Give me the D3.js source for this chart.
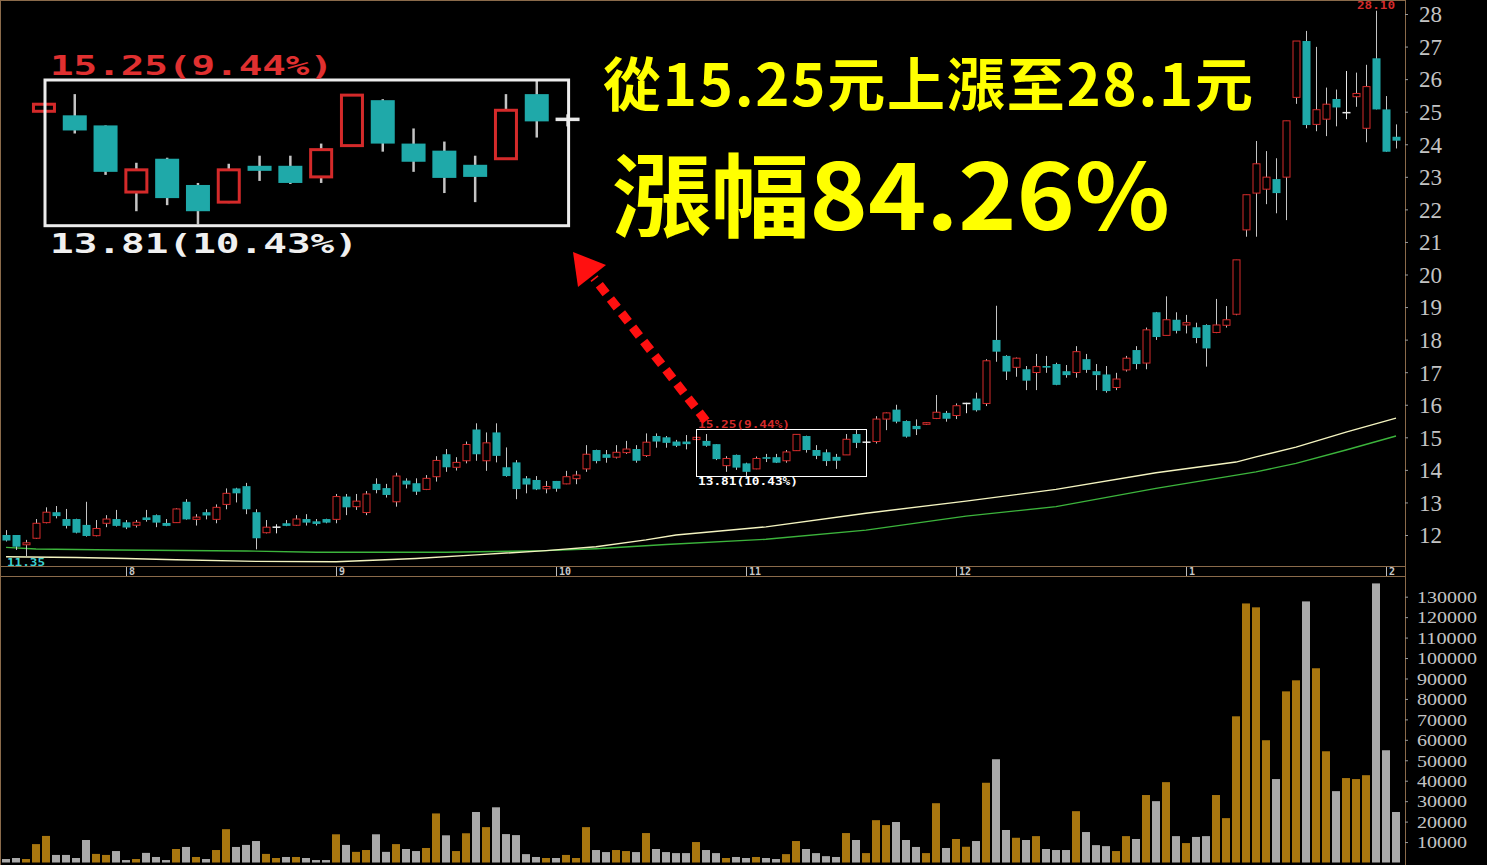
<!DOCTYPE html>
<html><head><meta charset="utf-8">
<script src="https://cdn.jsdelivr.net/npm/d3@7"></script>
<style>html,body{margin:0;padding:0;background:#000;overflow:hidden}</style>
</head><body><svg id="c" width="1487" height="865"></svg>
<script>
// ---- data ----
const openP = [12.00,12.00,11.70,11.90,12.38,12.70,12.49,12.49,12.31,11.98,
12.36,12.49,12.39,12.30,12.54,12.61,12.37,12.38,13.02,12.48,
12.70,12.48,12.94,13.43,13.50,12.70,12.07,12.24,12.36,12.30,
12.49,12.42,12.49,12.48,13.18,12.87,12.69,13.57,13.44,13.02,
13.67,13.59,13.40,13.79,14.48,14.08,14.28,15.24,14.28,15.15,
14.08,14.23,13.74,13.69,13.42,13.66,13.57,13.73,14.03,14.61,
14.48,14.39,14.53,14.64,14.44,15.04,15.00,14.87,14.87,14.93,
14.89,14.79,14.13,14.46,14.20,14.03,14.39,14.39,14.28,14.59,
15.04,14.61,14.54,14.40,14.46,15.10,14.85,14.87,15.56,15.85,
15.50,15.35,15.40,15.58,15.75,15.67,16.04,16.19,16.04,17.99,
17.50,17.15,17.09,16.99,17.19,17.25,17.03,16.99,17.40,17.03,
16.93,16.53,17.07,17.68,17.28,18.84,18.13,18.61,18.45,18.38,
18.45,18.22,18.44,18.78,21.37,22.50,22.62,22.93,22.99,25.44,
27.17,24.61,24.77,25.39,24.97,25.46,24.49,26.64,25.07,24.23];
const highP = [12.15,12.00,11.85,12.49,12.85,12.89,12.80,12.50,13.02,12.46,
12.61,12.77,12.46,12.46,12.77,12.63,12.49,12.82,13.10,12.64,
12.79,12.94,13.43,13.45,13.60,12.79,12.46,12.33,12.46,12.61,
12.64,12.49,12.50,13.26,13.26,13.26,13.35,13.74,13.57,13.91,
13.74,13.74,13.84,14.42,14.64,14.39,14.87,15.43,15.15,15.43,
14.69,14.30,13.81,13.81,13.66,13.66,13.97,13.97,14.76,14.62,
14.61,14.76,14.89,14.76,15.12,15.12,15.04,14.92,15.07,15.00,
15.10,14.79,14.42,14.47,14.22,14.41,14.49,14.49,14.61,15.09,
15.05,14.76,14.63,14.49,15.10,15.25,14.90,15.65,15.76,16.00,
15.52,15.55,15.46,16.30,15.81,16.04,16.06,16.37,17.40,19.04,
17.52,17.45,17.19,17.56,17.50,17.29,17.22,17.80,17.56,17.25,
17.19,16.98,17.50,17.80,18.37,18.85,19.33,18.84,18.76,18.52,
18.47,19.25,19.03,20.45,22.45,24.10,23.79,23.57,24.72,27.17,
27.48,26.99,25.74,25.68,26.25,26.20,26.44,28.10,25.48,24.61];
const lowP = [11.80,11.54,11.35,11.88,12.36,12.51,12.20,12.05,11.95,11.96,
12.24,12.26,12.18,12.23,12.41,12.24,12.27,12.37,12.47,12.29,
12.48,12.36,12.79,13.00,12.64,11.56,12.05,12.05,12.27,12.29,
12.29,12.29,12.36,12.36,12.61,12.77,12.61,13.28,13.15,12.87,
13.43,13.23,13.38,13.64,13.94,13.98,14.20,14.28,13.97,14.23,
13.79,13.10,13.28,13.38,13.28,13.33,13.56,13.56,13.94,14.20,
14.22,14.35,14.49,14.22,14.40,14.68,14.68,14.70,14.63,14.93,
14.71,14.30,13.94,14.00,13.81,14.02,14.24,14.21,14.22,14.58,
14.53,14.33,14.12,14.03,14.46,14.67,14.78,14.81,15.22,15.43,
14.99,15.07,15.38,15.56,15.48,15.56,15.74,15.79,15.96,17.32,
16.76,16.86,16.45,16.45,16.98,16.60,16.83,16.83,16.98,16.45,
16.37,16.45,17.02,17.09,17.09,17.99,18.13,18.19,18.19,17.89,
17.17,18.20,18.37,18.75,21.16,21.16,22.16,21.88,21.67,25.24,
24.49,24.40,24.25,24.55,24.77,25.15,24.06,25.07,23.77,23.87];
const closeP = [11.83,11.64,11.76,12.36,12.70,12.58,12.28,12.07,11.97,12.20,
12.49,12.28,12.23,12.39,12.46,12.38,12.28,12.80,12.48,12.55,
12.60,12.85,13.28,13.28,12.79,11.90,12.24,12.24,12.28,12.49,
12.38,12.34,12.38,13.18,12.85,13.04,13.26,13.38,13.23,13.81,
13.55,13.33,13.74,14.29,14.08,14.23,14.78,14.48,14.83,14.43,
13.81,13.41,13.55,13.40,13.49,13.42,13.79,13.84,14.48,14.27,
14.37,14.54,14.64,14.28,14.85,14.87,14.83,14.74,14.79,15.00,
14.74,14.33,14.35,14.07,13.94,14.35,14.34,14.22,14.55,15.09,
14.61,14.43,14.27,14.28,14.94,14.83,14.85,15.56,15.75,15.48,
15.02,15.25,15.45,15.77,15.57,15.97,16.04,15.83,17.35,17.63,
17.02,17.43,16.74,17.17,17.14,16.61,16.91,17.63,17.07,16.91,
16.42,16.79,17.43,17.25,18.30,18.08,18.61,18.27,18.52,18.05,
17.73,18.45,18.61,20.45,22.45,23.40,22.99,22.50,24.72,27.17,
24.59,25.06,25.23,25.13,24.97,25.56,25.77,25.07,23.77,24.11];
const volume = [1700,2200,1700,9000,13000,3700,3700,2200,11000,4200,
3700,5600,1200,1700,4700,2700,1200,6600,7600,2700,
1700,6100,16300,7600,8600,10500,4200,2200,2700,2700,
2200,1200,1200,13800,8600,5200,6100,13800,5200,9000,
6600,5600,7100,24000,13300,5600,14300,24700,17300,27000,
13900,13400,4100,2700,2200,2200,3700,2200,17300,6100,
5100,6100,5600,5100,14400,6600,5100,4600,4600,10000,
6100,4600,2200,2700,2200,2700,2200,1700,4100,10500,
6600,4600,3100,2700,14400,11000,4600,20700,18300,19800,
11000,7600,4600,29000,7100,11500,7700,10500,39000,50500,
15900,12100,11000,12900,6600,6100,6100,25100,14900,8500,
8000,5600,12900,11500,33000,30000,39300,12900,9500,12500,
12900,33000,21700,71500,126700,124800,59800,40800,83700,89100,
127700,95000,54400,34900,41300,40800,42700,136500,54900,24700];
// moving averages, read at sample days
const maYellowIdx = [0,7,12,17,25,33,41,47,54,59,64,67,76,86,96,105,115,123,125,129,134,139];
const maYellowVal = [11.33,11.31,11.28,11.24,11.19,11.18,11.28,11.39,11.52,11.64,11.85,12.00,12.25,12.67,13.04,13.40,13.91,14.24,14.40,14.70,15.16,15.59];
const maGreenIdx = [0,3,11,24,31,44,54,59,66,76,86,96,105,115,125,129,134,139];
const maGreenVal = [11.62,11.57,11.54,11.51,11.47,11.47,11.52,11.58,11.71,11.87,12.15,12.58,12.87,13.43,13.94,14.20,14.61,15.04];
const priceTicks = [12,13,14,15,16,17,18,19,20,21,22,23,24,25,26,27,28];
const volTicks = [10000,20000,30000,40000,50000,60000,70000,80000,90000,100000,110000,120000,130000];
const monthIdx = [12,33,55,74,95,118,138];
const monthLabels = ["8","9","10","11","12","1","2"];
const zoomFrom = 69, zoomTo = 86;

// ---- drawing ----
const N = closeP.length;
const svg = d3.select("#c");
svg.append("rect").attr("width",1487).attr("height",865).attr("fill","#000");
const RED = "#d42a2a", CYAN = "#1fa9a9", WICK = "#c4c4c4", BORDER = "#8a6a4a";
const x = d3.scaleLinear().domain([0, N-1]).range([6, 6 + 10*(N-1)]);
const y = d3.scaleLinear().domain([12, 28]).range([535, 14]);
const yv = d3.scaleLinear().domain([0, 130000]).range([862.5, 596.7]);

svg.append("defs").append("clipPath").attr("id","mainclip")
  .append("rect").attr("x",1).attr("y",1).attr("width",1404).attr("height",565);
const main = svg.append("g").attr("clip-path","url(#mainclip)");

// MA lines
const line = d3.line().x(d=>x(d[0])).y(d=>y(d[1]));
main.append("path").datum(maGreenIdx.map((d,i)=>[d,maGreenVal[i]]))
  .attr("d",line).attr("fill","none").attr("stroke","#3cb43c").attr("stroke-width",1.4);
main.append("path").datum(maYellowIdx.map((d,i)=>[d,maYellowVal[i]]))
  .attr("d",line).attr("fill","none").attr("stroke","#f4f4c0").attr("stroke-width",1.4);

const data = d3.range(N).map(i=>({i, o:openP[i], h:highP[i], l:lowP[i], c:closeP[i], v:volume[i]}));

function drawCandles(g, rows, xs, ys, bw, sw, wickW){
  const gg = g.selectAll("g.k").data(rows).join("g").attr("class","k");
  gg.append("line")
    .attr("x1",d=>xs(d.i)+0.5).attr("x2",d=>xs(d.i)+0.5)
    .attr("y1",d=>ys(d.h)).attr("y2",d=>ys(d.l))
    .attr("stroke",d=>d.c===d.o?"#e8e8e8":WICK).attr("stroke-width",wickW);
  gg.filter(d=>d.c<d.o).append("rect")
    .attr("x",d=>xs(d.i)+0.5-bw/2).attr("width",bw)
    .attr("y",d=>ys(d.o)).attr("height",d=>Math.max(1,ys(d.c)-ys(d.o)))
    .attr("fill",CYAN);
  gg.filter(d=>d.c>d.o).append("rect")
    .attr("x",d=>xs(d.i)+0.5-bw/2+sw/2).attr("width",bw-sw)
    .attr("y",d=>ys(d.c)).attr("height",d=>Math.max(1,ys(d.o)-ys(d.c)))
    .attr("fill","#000").attr("stroke",RED).attr("stroke-width",sw);
  gg.filter(d=>d.c===d.o).append("line")
    .attr("x1",d=>xs(d.i)+0.5-bw/2).attr("x2",d=>xs(d.i)+0.5+bw/2)
    .attr("y1",d=>ys(d.c)).attr("y2",d=>ys(d.c))
    .attr("stroke","#e8e8e8").attr("stroke-width",sw+0.5);
}
drawCandles(main.append("g"), data, x, y, 8, 1, 1);

const MONO = "'DejaVu Sans Mono'";
// low / high labels
main.append("text").attr("x",7).attr("y",566).text("11.35")
  .attr("fill","#3ccfcf").attr("font-family",MONO).attr("font-weight","bold")
  .attr("font-size",11).attr("textLength",38).attr("lengthAdjust","spacingAndGlyphs");
svg.append("text").attr("x",x(137)).attr("y",9).attr("text-anchor","middle").text("28.10")
  .attr("fill",RED).attr("font-family",MONO).attr("font-weight","bold")
  .attr("font-size",10).attr("textLength",38).attr("lengthAdjust","spacingAndGlyphs");

// small box in main chart
const bx0 = 696.5, by0 = 429.5, bx1 = 866.5, by1 = 476.5;
svg.append("rect").attr("x",bx0).attr("y",by0).attr("width",bx1-bx0).attr("height",by1-by0)
  .attr("fill","none").attr("stroke","#fff").attr("stroke-width",1);
svg.append("text").attr("x",698).attr("y",428).text("15.25(9.44%)")
  .attr("fill",RED).attr("font-family",MONO).attr("font-weight","bold")
  .attr("font-size",10).attr("textLength",92).attr("lengthAdjust","spacingAndGlyphs");
svg.append("text").attr("x",698).attr("y",485).text("13.81(10.43%)")
  .attr("fill","#fff").attr("font-family",MONO).attr("font-weight","bold")
  .attr("font-size",10).attr("textLength",100).attr("lengthAdjust","spacingAndGlyphs");

// enlarged inset
const sx = 3.08, sy = 3.1, ix0 = 45, iy0 = 80;
const xi = d3.scaleLinear().domain([zoomFrom, zoomTo])
  .range([ix0 + (x(zoomFrom)-bx0)*sx, ix0 + (x(zoomTo)-bx0)*sx]);
const yi = d3.scaleLinear().domain(y.domain()).range(y.range().map(v=>iy0 + (v-by0)*sy));
drawCandles(svg.append("g"), data.filter(d=>d.i>=zoomFrom && d.i<=zoomTo), xi, yi, 24, 3, 2.5);
svg.append("rect").attr("x",ix0).attr("y",iy0).attr("width",(bx1-bx0)*sx).attr("height",(by1-by0)*sy)
  .attr("fill","none").attr("stroke","#ececec").attr("stroke-width",3);
svg.append("text").attr("x",50).attr("y",75).text("15.25(9.44%)")
  .attr("fill","#e03030").attr("font-family",MONO).attr("font-weight","bold")
  .attr("font-size",26).attr("textLength",283).attr("lengthAdjust","spacingAndGlyphs");
svg.append("text").attr("x",50).attr("y",253).text("13.81(10.43%)")
  .attr("fill","#f0f0f0").attr("font-family",MONO).attr("font-weight","bold")
  .attr("font-size",26).attr("textLength",308).attr("lengthAdjust","spacingAndGlyphs");

// arrow
svg.append("line").attr("x1",706).attr("y1",421).attr("x2",594).attr("y2",278)
  .attr("stroke","#ff1010").attr("stroke-width",9).attr("stroke-dasharray","11,7");
svg.append("path").attr("d","M573,252 L606,265 L578,287 Z").attr("fill","#ff1010");

// headline texts
svg.append("text").attr("x",603).attr("y",106).text("從15.25元上漲至28.1元")
  .attr("fill","#ffff00").attr("font-family","'Noto Sans CJK TC'").attr("font-weight","bold")
  .attr("font-size",58).attr("textLength",650);
svg.append("text").attr("x",612).attr("y",230).text("漲幅84.26%")
  .attr("fill","#ffff00").attr("font-family","'Noto Sans CJK TC'").attr("font-weight","bold")
  .attr("font-size",91).attr("textLength",558).attr("lengthAdjust","spacingAndGlyphs");

// volume bars
svg.append("g").selectAll("rect").data(data).join("rect")
  .attr("x",d=>x(d.i)-4).attr("width",8)
  .attr("y",d=>yv(d.v)).attr("height",d=>yv(0)-yv(d.v))
  .attr("fill",d=>d.c>=d.o?"#a8760f":"#a9a9a9");

// frames
const fr = svg.append("g").attr("stroke",BORDER).attr("stroke-width",1).attr("fill","none");
fr.append("line").attr("x1",0).attr("x2",1405.5).attr("y1",0.5).attr("y2",0.5);
fr.append("line").attr("x1",0.5).attr("x2",0.5).attr("y1",0).attr("y2",865);
fr.append("line").attr("x1",1405.5).attr("x2",1405.5).attr("y1",0).attr("y2",865);
fr.append("line").attr("x1",0).attr("x2",1405.5).attr("y1",566.5).attr("y2",566.5);
fr.append("line").attr("x1",0).attr("x2",1405.5).attr("y1",576.5).attr("y2",576.5);

// date strip
const ds = svg.append("g");
ds.selectAll("line").data(monthIdx).join("line")
  .attr("x1",d=>x(d)+0.5).attr("x2",d=>x(d)+0.5).attr("y1",567).attr("y2",576)
  .attr("stroke","#bdbdbd");
ds.selectAll("text").data(monthIdx).join("text")
  .attr("x",d=>x(d)+3).attr("y",575).text((d,i)=>monthLabels[i])
  .attr("fill","#c8c8c8").attr("font-family",MONO).attr("font-weight","bold")
  .attr("font-size",10);

// right axes
const pa = svg.append("g").attr("transform","translate(1405,0)")
  .call(d3.axisRight(y).tickValues(priceTicks).tickSize(3).tickPadding(11).tickFormat(d3.format("d")));
pa.select(".domain").remove();
pa.selectAll("line").attr("stroke","#9a9a9a");
pa.selectAll("text").attr("fill","#c4c4c4").attr("font-family","'Liberation Serif'")
  .attr("font-size",23).attr("dy","0.34em");
const va = svg.append("g").attr("transform","translate(1405,0)")
  .call(d3.axisRight(yv).tickValues(volTicks).tickSize(3).tickPadding(9).tickFormat(d3.format("d")));
va.select(".domain").remove();
va.selectAll("line").attr("stroke","#9a9a9a");
va.selectAll("text").attr("fill","#c4c4c4").attr("font-family","'Liberation Serif'")
  .attr("font-size",17).attr("dy","0.34em").attr("textLength",d=>d>=100000?60:50)
  .attr("lengthAdjust","spacingAndGlyphs");
</script></body></html>
